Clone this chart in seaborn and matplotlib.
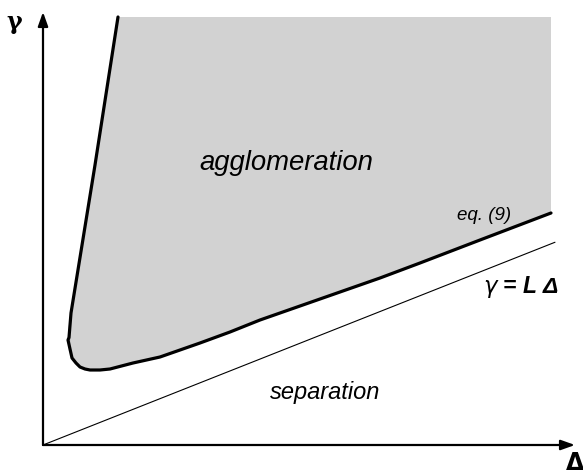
import matplotlib
matplotlib.use("Agg")
import matplotlib.pyplot as plt
import seaborn as sns
import pandas as pd
import numpy as np

# Boundary curve (eq. 9) (units: origin at axes crossing)
curve_delta = [75, 52, 28, 26, 25, 26, 29, 33, 37, 42, 47, 57, 67, 90, 117,
               157, 187, 217, 257, 297, 337, 377, 437, 508]
curve_gamma = [428, 280, 132, 120, 105, 95, 87, 82, 78, 76, 75, 75, 76, 82, 88,
               102, 113, 125, 139, 153, 167, 182, 205, 232]
# Straight line gamma = L * Delta
L_slope = 0.396
line_delta = [0, 512]
x_max = 532
y_max = 433
fill_top = 428
fill_right = 508

sns.set_theme(style="white")
plt.rcParams['font.family'] = ['Liberation Sans', 'DejaVu Sans']
plt.rcParams['text.color'] = 'black'

fig = plt.figure(figsize=(5.83, 4.75), dpi=100)
ax = fig.add_axes([0, 0, 1, 1])

curve = pd.DataFrame({'delta': curve_delta, 'gamma': curve_gamma})
line = pd.DataFrame({'delta': line_delta, 'gamma': [L_slope * d for d in line_delta]})

# shaded agglomeration region
poly_x = curve_delta + [fill_right]
poly_y = curve_gamma + [fill_top]
ax.fill(poly_x, poly_y, color='#d2d2d2', lw=0, zorder=1)

sns.lineplot(data=curve, x='delta', y='gamma', sort=False, color='black', lw=2.3, ax=ax, zorder=3)
sns.lineplot(data=line, x='delta', y='gamma', sort=False, color='black', lw=0.8, ax=ax, zorder=3)
ax.set_xlim(-43, 540)
ax.set_ylim(-30, 445)
ax.axis('off')

# axes arrows
arrow = dict(arrowstyle='-|>,head_length=0.7,head_width=0.25', color='black', lw=1.6, shrinkA=0, shrinkB=0)
ax.annotate('', xy=(x_max, 0), xytext=(0, 0), arrowprops=arrow, zorder=4)
ax.annotate('', xy=(0, y_max), xytext=(0, 0), arrowprops=arrow, zorder=4)

ax.text(-29, 423, 'γ', fontsize=17, fontweight='bold', family=['DejaVu Serif'], color='black', ha='center', va='center')
ax.text(532, -18, 'Δ', fontsize=17, fontweight='bold', family=['DejaVu Sans'], color='black', ha='center', va='center')

ax.text(243, 282, 'agglomeration', fontsize=19.8, style='italic', color='black', ha='center', va='center')
ax.text(282, 53, 'separation', fontsize=17, style='italic', color='black', ha='center', va='center')
ax.text(441, 229, 'eq. (9)', fontsize=13.5, style='italic', color='black', ha='center', va='center')
ax.text(478, 158, r'$\gamma$ = L Δ', fontsize=16.5, style='italic', fontweight='bold', color='black', ha='center', va='center')

fig.savefig('out.png', dpi=100)
